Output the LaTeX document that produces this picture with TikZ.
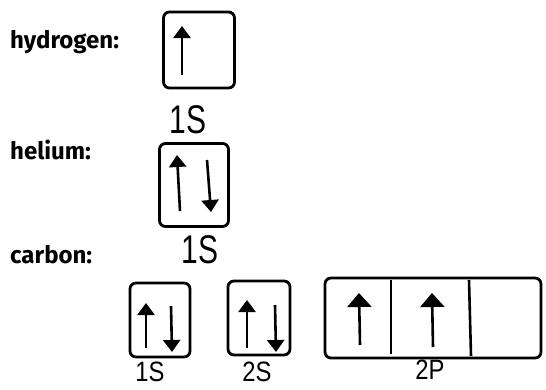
\documentclass[tikz,border=0pt]{standalone}
\usepackage{fontspec}
\setmainfont{Fira Sans}
\newfontfamily\hand{Liberation Sans}
\usetikzlibrary{arrows.meta}
\begin{document}
\begin{tikzpicture}[x=1pt,y=-1pt,
  orb/.style={draw, line width=2.8pt, rounded corners=6pt, inner sep=0pt},
  spin/.style={line width=2.6pt, -{Triangle[length=12pt,width=17pt]}},
  bigspin/.style={line width=2.6pt, -{Triangle[length=14pt,width=24pt]}},
  elem/.style={anchor=west, font=\bfseries\fontsize{24}{28}\selectfont, inner sep=0pt},
  lbl/.style={font=\hand\fontsize{40}{44}\selectfont, inner sep=0pt, xscale=0.75},
  slbl/.style={font=\hand\fontsize{28}{30}\selectfont, inner sep=0pt, xscale=0.85},
  divider/.style={line width=2.6pt}]
\useasboundingbox (0,0) rectangle (546,389);
\fill[white] (0,0) rectangle (546,389);

% labels
\node[elem] (lh) at (10,42) {hydrogen:};
\node[elem] (lhe) at (10,150) {helium:};
\node[elem] (lc) at (10,255) {carbon:};

% hydrogen
\node[orb, minimum width=71pt, minimum height=76pt] (hb) at (199,50) {};
\coordinate (h1a) at (182,75); \coordinate (h1b) at (182,26);
\draw[spin] (h1a) -- (h1b);
\node[lbl] (h1s) at (188,120) {1S};

% helium
\node[orb, minimum width=69pt, minimum height=83pt] (heb) at (194,185) {};
\coordinate (he1a) at (180,211); \coordinate (he1b) at (177,155);
\coordinate (he2a) at (207,160); \coordinate (he2b) at (211,212);
\draw[spin] (he1a) -- (he1b);
\draw[spin] (he2a) -- (he2b);
\node[lbl] (he1s) at (200,250) {1S};

% carbon 1s
\node[orb, minimum width=60pt, minimum height=74pt] (c1) at (160,320) {};
\coordinate (c1a) at (146,348); \coordinate (c1b) at (146,303);
\coordinate (c1c) at (171,306); \coordinate (c1d) at (172,352);
\draw[spin] (c1a) -- (c1b);
\draw[spin] (c1c) -- (c1d);
\node[slbl] (c1s) at (150,372) {1S};

% carbon 2s
\node[orb, minimum width=62pt, minimum height=74pt] (c2) at (259,318) {};
\coordinate (c2a) at (247,348); \coordinate (c2b) at (247,300);
\coordinate (c2c) at (275,305); \coordinate (c2d) at (276,352);
\draw[spin] (c2a) -- (c2b);
\draw[spin] (c2c) -- (c2d);
\node[slbl] (c2s) at (257,372) {2S};

% carbon 2p
\node[orb, minimum width=216pt, minimum height=80pt] (c3) at (433,318) {};
\coordinate (d1t) at (391,280); \coordinate (d1b) at (391,354);
\coordinate (d2t) at (469,280); \coordinate (d2b) at (471,356);
\draw[divider] (d1t) -- (d1b);
\draw[divider] (d2t) -- (d2b);
\coordinate (p1a) at (360,345); \coordinate (p1b) at (359,293);
\coordinate (p2a) at (433,347); \coordinate (p2b) at (432,293);
\draw[bigspin] (p1a) -- (p1b);
\draw[bigspin] (p2a) -- (p2b);
\node[slbl] (c3s) at (430,370) {2P};
\end{tikzpicture}
\end{document}
